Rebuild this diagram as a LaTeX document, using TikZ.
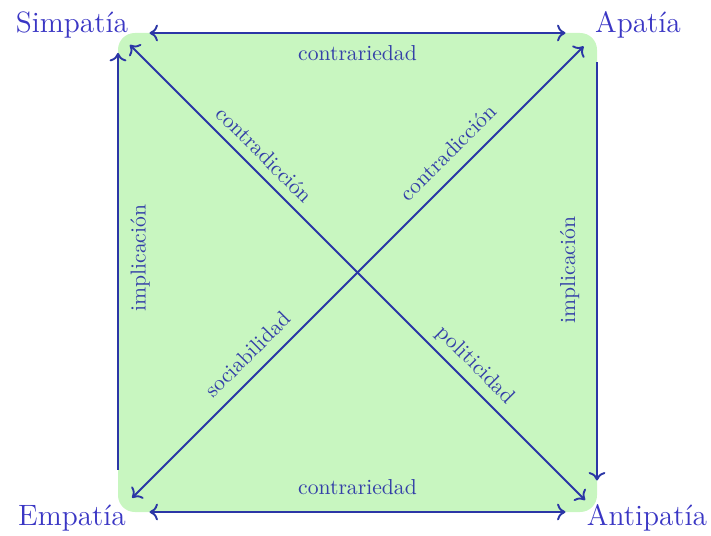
\documentclass[tikz,border=0pt]{standalone}
\usepackage{tikz}
\usetikzlibrary{arrows.meta,positioning}
\definecolor{SqBlue}{HTML}{2B36A6}
\definecolor{SqText}{HTML}{3A36C4}
\definecolor{SqLabel}{HTML}{3440A8}
\definecolor{SqGreen}{HTML}{C8F6C0}

\begin{document}
\begin{tikzpicture}[
  x=0.01673cm, y=-0.01673cm,
  >={Computer Modern Rightarrow[length=4pt,width=8pt]},
  vertex/.style={anchor=base,font=\fontsize{14}{16}\selectfont,text=SqText},
  rel/.style={font=\fontsize{10.3}{12}\selectfont,text=SqLabel},
  arr/.style={line width=0.9pt,color=SqBlue}
]
  \useasboundingbox (0,0) rectangle (711,536);

  \coordinate (nw) at (118,33);
  \coordinate (ne) at (597,33);
  \coordinate (sw) at (118,512);
  \coordinate (se) at (597,512);
  \fill[SqGreen,rounded corners=8pt] (nw) rectangle (se);

  \node[vertex] (simp) at (72,33) {Simpatía};
  \node[vertex] (apat) at (638,33) {Apatía};
  \node[vertex] (empat) at (72,525) {Empatía};
  \node[vertex] (antip) at (647,525) {Antipatía};

  \draw[arr,<->,shorten <=15pt,shorten >=15pt] (nw) --
    node[rel,below=2.2pt] (contr-top) {contrariedad} (ne);
  \draw[arr,<->,shorten <=15pt,shorten >=15pt] (sw) --
    node[rel,above=4.2pt] (contr-bot) {contrariedad} (se);
  \draw[arr,->,shorten <=20pt,shorten >=9.5pt] (sw) --
    node[rel,sloped,below=2.2pt,pos=0.53] (impl-l) {implicación} (nw);
  \draw[arr,<-,shorten <=15pt,shorten >=14pt] (se) --
    node[rel,sloped,above=4.6pt,pos=0.505] (impl-r) {implicación} (ne);

  \draw[arr,<->,shorten <=8pt,shorten >=8pt] (nw) --
    node[rel,sloped,above=1pt,pos=0.28] (contrad-l) {contradicción}
    node[rel,sloped,above=0pt,pos=0.72] (polit) {politicidad} (se);
  \draw[arr,<->,shorten <=9.5pt,shorten >=9pt] (sw) --
    node[rel,sloped,above=2pt,pos=0.3] (socia) {sociabilidad}
    node[rel,sloped,above=2.5pt,pos=0.72] (contrad-r) {contradicción} (ne);
\end{tikzpicture}
\end{document}
